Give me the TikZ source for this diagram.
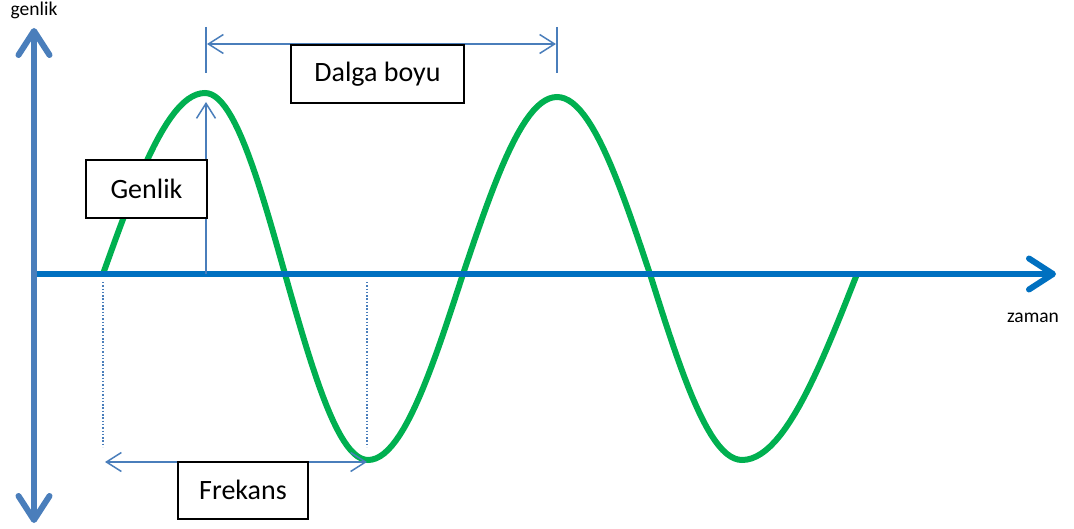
\documentclass[tikz,border=0pt]{standalone}
\usepackage{fontspec}
\setmainfont{Carlito}
\usetikzlibrary{arrows.meta}
\definecolor{yaxc}{HTML}{4A7EBB}
\definecolor{xaxc}{HTML}{0070C0}
\definecolor{dimc}{HTML}{4A7EBB}
\definecolor{wavec}{HTML}{00B050}
\begin{document}
\begin{tikzpicture}[x=1pt,y=-1pt,
  yaxis/.style={draw=yaxc,line width=6pt,{Straight Barb[length=24pt,width=31pt,line cap=round,line join=round]}-{Straight Barb[length=24pt,width=31pt,line cap=round,line join=round]}},
  xaxis/.style={draw=xaxc,line width=6pt,-{Straight Barb[length=24pt,width=31pt,line cap=round,line join=round]}},
  dimline/.style={draw=dimc,line width=1.5pt},
  dimarrow/.style={draw=dimc,line width=1.5pt,{Straight Barb[length=15pt,width=19pt]}-{Straight Barb[length=15pt,width=19pt]}},
  uparrow/.style={draw=dimc,line width=1.5pt,-{Straight Barb[length=15pt,width=19pt]}},
  guide/.style={draw=dimc,line width=1.5pt,dash pattern=on 1.5pt off 1.8pt},
  wave/.style={draw=wavec,line width=6pt},
  box/.style={draw=black,line width=2pt,fill=white,inner sep=0pt,font=\fontsize{28}{32}\selectfont},
  axlabel/.style={inner sep=0pt,font=\fontsize{19.5}{22}\selectfont}]
\useasboundingbox (0,0) rectangle (1074,529);

% coordinates
\coordinate (ytop) at (34,28);
\coordinate (ybot) at (34,523);
\coordinate (xl) at (34,274);
\coordinate (xr) at (1056,274);
\coordinate (dl1) at (206,27);
\coordinate (dl2) at (206,73);
\coordinate (dr1) at (557,27);
\coordinate (dr2) at (557,73);
\coordinate (dal) at (207,44);
\coordinate (dar) at (556,44);
\coordinate (gb) at (206,274);
\coordinate (gt) at (206,102);
\coordinate (fl1) at (103,282);
\coordinate (fl2) at (103,447);
\coordinate (fr1) at (367,282);
\coordinate (fr2) at (367,447);
\coordinate (fal) at (105,462);
\coordinate (far) at (367,462);

% wave
\draw[wave]
  plot[domain=0:90,samples=25] ({103+102*\x/90},{274-181*sin(\x)})
  -- plot[domain=0:90,samples=25] ({205+80*\x/90},{274-181*cos(\x)})
  -- plot[domain=0:90,samples=25] ({285+83*\x/90},{274+186*sin(\x)})
  -- plot[domain=0:90,samples=25] ({368+95*\x/90},{274+186*cos(\x)})
  -- plot[domain=0:90,samples=25] ({463+94*\x/90},{274-177*sin(\x)})
  -- plot[domain=0:90,samples=25] ({557+93*\x/90},{274-177*cos(\x)})
  -- plot[domain=0:90,samples=25] ({650+92*\x/90},{274+186*sin(\x)})
  -- plot[domain=0:90,samples=25] ({742+115*\x/90},{274+186*cos(\x)});

% axes
\draw[xaxis] (xl) -- (xr);
\draw[yaxis] (ybot) -- (ytop);

% dimension lines
\draw[dimline] (dl1) -- (dl2);
\draw[dimline] (dr1) -- (dr2);
\draw[dimarrow] (dal) -- (dar);
\draw[uparrow] (gb) -- (gt);
\draw[guide] (fl1) -- (fl2);
\draw[guide] (fr1) -- (fr2);
\draw[dimarrow] (fal) -- (far);

% boxes
\node[box,minimum width=173pt,minimum height=58pt] (dalga) at (377.5,74) {Dalga boyu};
\node[box,minimum width=121pt,minimum height=58pt] (genlikbox) at (146.5,189) {Genlik};
\node[box,minimum width=130pt,minimum height=57pt] (frekans) at (243,490) {Frekans};

% axis labels
\node[axlabel,anchor=base] (ylab) at (34,16) {genlik};
\node[axlabel,anchor=base] (xlab) at (1033,323) {zaman};
\end{tikzpicture}
\end{document}
